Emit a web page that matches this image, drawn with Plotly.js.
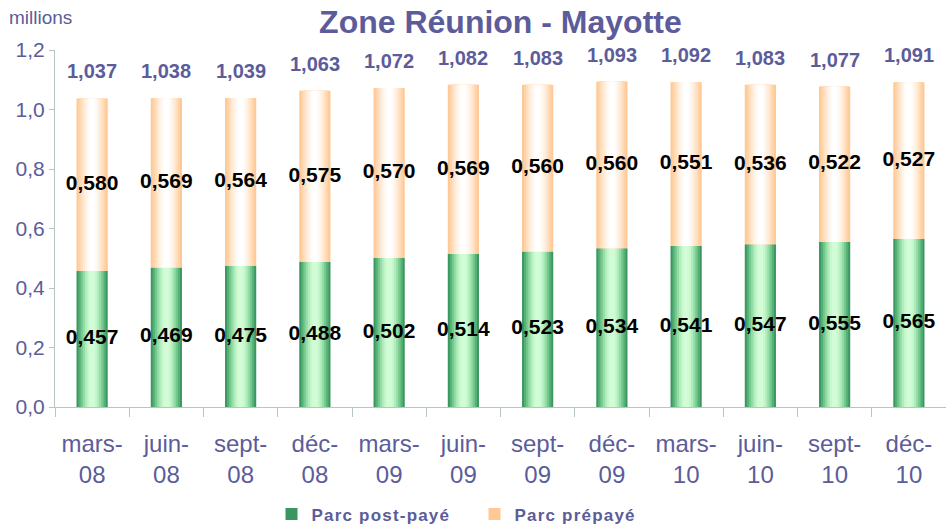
<!DOCTYPE html>
<html><head><meta charset="utf-8">
<script src="https://cdn.plot.ly/plotly-3.0.1.min.js"></script>
<style>body{margin:0;background:#fff}#c{width:946px;height:527px}.legendtext{letter-spacing:1.2px}</style>
</head><body><div id="c"></div>
<script>
const categories = ["mars-<br>08","juin-<br>08","sept-<br>08","déc-<br>08","mars-<br>09","juin-<br>09","sept-<br>09","déc-<br>09","mars-<br>10","juin-<br>10","sept-<br>10","déc-<br>10"];
const postPaye = [0.457,0.469,0.475,0.488,0.502,0.514,0.523,0.534,0.541,0.547,0.555,0.565];
const prepaye  = [0.580,0.569,0.564,0.575,0.570,0.569,0.560,0.560,0.551,0.536,0.522,0.527];
const totals   = [1.037,1.038,1.039,1.063,1.072,1.082,1.083,1.093,1.092,1.083,1.077,1.091];

const purple = "#5c5c9a";
const fmt = v => v.toFixed(3).replace(".", ",");
const widths = [0.42, 0.37, 0.31, 0.25, 0.19, 0.13, 0.07];
const greens = ["#3a9660","#55b076","#74c78d","#94dca5","#b1ecbc","#c6f7cd","#d2fcd6"];
const peaches = ["#ffc894","#ffd3a9","#ffdfbf","#ffead5","#fff3e8","#fffaf5","#ffffff"];

const traces = [];
widths.forEach((w,i)=>{
  traces.push({type:"bar", x:categories, y:postPaye, width:w, marker:{color:greens[i], line:{width:0}},
    name:"Parc post-payé", showlegend:i===0, legendgroup:"a", hoverinfo:"skip"});
});
widths.forEach((w,i)=>{
  traces.push({type:"bar", x:categories, y:prepaye, base:postPaye, width:w, marker:{color:peaches[i], line:{width:0}},
    name:"Parc prépayé", showlegend:i===0, legendgroup:"b", hoverinfo:"skip"});
});
const lblFont = {family:"Liberation Sans, Arial", size:21, color:"#000", weight:"bold"};
traces.push({type:"scatter", mode:"text", x:categories, y:postPaye.map(v=>v/2), text:postPaye.map(fmt),
  textfont:lblFont, showlegend:false, hoverinfo:"skip"});
traces.push({type:"scatter", mode:"text", x:categories, y:prepaye.map((v,i)=>postPaye[i]+v/2), text:prepaye.map(fmt),
  textfont:lblFont, showlegend:false, hoverinfo:"skip"});

const annotations = totals.map((t,i)=>({x:categories[i], y:t, yshift:27, text:"<b>"+fmt(t)+"</b>", showarrow:false,
  font:{family:"Liberation Sans, Arial", size:20, color:purple}}));
annotations.push({xref:"paper", yref:"paper", x:-0.054, y:1.09, xanchor:"left", yanchor:"middle", text:"millions", showarrow:false,
  font:{family:"Liberation Sans, Arial", size:19, color:purple}});

const layout = {
  width:946, height:527, paper_bgcolor:"#fff", plot_bgcolor:"#fff",
  margin:{l:55, r:0, t:50, b:120},
  separators:",.",
  barmode:"overlay",
  title:{text:"<b>Zone Réunion - Mayotte</b>", x:0.529, xanchor:"center", y:0.958, yanchor:"middle",
    font:{family:"Liberation Sans, Arial", size:32, color:purple}},
  xaxis:{type:"category", range:[-0.5, 11.5], tickson:"boundaries", ticks:"outside", ticklen:9, tickcolor:"#b4c6c6", automargin:false,
    showline:true, linecolor:"#b4c6c6", showgrid:false, ticklabelstandoff:15,
    tickfont:{family:"Liberation Sans, Arial", size:24, color:purple}},
  yaxis:{range:[0,1.2], dtick:0.2, tickformat:".1f", ticks:"outside", ticklen:5, tickcolor:"#b4c6c6", automargin:false,
    showline:true, linecolor:"#b4c6c6", showgrid:false, zeroline:false,
    tickfont:{family:"Liberation Sans, Arial", size:21, color:purple}},
  legend:{orientation:"h", xref:"container", yref:"container", x:0.287, xanchor:"left", y:0.024, yanchor:"middle", traceorder:"normal",
    font:{family:"Liberation Sans, Arial", size:17, color:purple, weight:"bold"}, entrywidth:158, entrywidthmode:"pixels"},
  annotations:annotations,
  font:{family:"Liberation Sans, Arial"}
};
Plotly.newPlot("c", traces, layout, {displayModeBar:false, staticPlot:true});
</script></body></html>
